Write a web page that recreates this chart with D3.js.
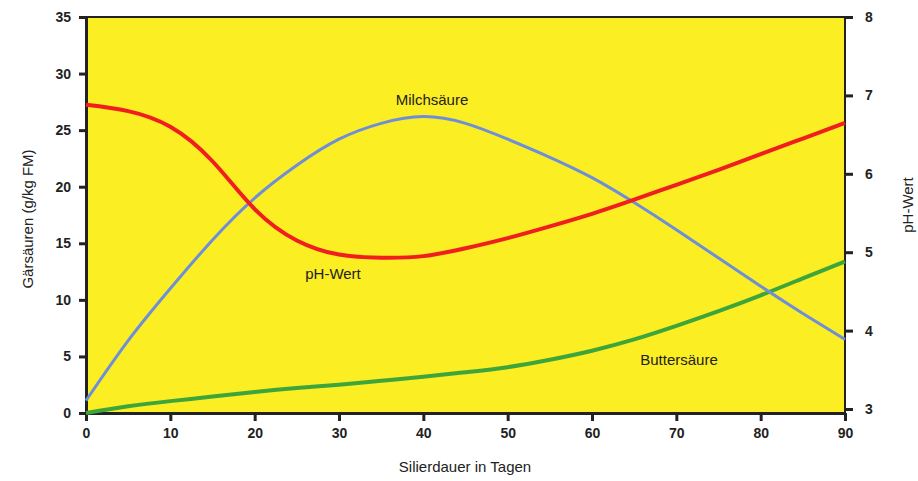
<!DOCTYPE html>
<html>
<head>
<meta charset="utf-8">
<script src="https://cdn.jsdelivr.net/npm/d3@7"></script>
<style>
  body { margin: 0; background: #fff; }
  svg text { font-family: "Liberation Sans", Arial, sans-serif; }
</style>
</head>
<body>
<svg id="chart" width="918" height="481"></svg>
<script>
// days on the x axis
const days = [0, 5, 10, 15, 20, 25, 30, 35, 40, 45, 50, 55, 60, 65, 70, 75, 80, 85, 90];
// lactic acid, g/kg FM (left axis)
const milchsaeure = [1.1, 6.4, 11.0, 15.3, 19.0, 21.9, 24.2, 25.6, 26.2, 25.6, 24.2, 22.6, 20.8, 18.6, 16.2, 13.7, 11.2, 8.8, 6.5];
// butyric acid, g/kg FM (left axis)
const buttersaeure = [0.0, 0.6, 1.05, 1.45, 1.85, 2.2, 2.5, 2.85, 3.2, 3.6, 4.05, 4.7, 5.5, 6.5, 7.7, 9.0, 10.4, 11.9, 13.4];
// pH (right axis)
const phWert = [6.88, 6.80, 6.60, 6.16, 5.55, 5.15, 4.97, 4.93, 4.95, 5.05, 5.18, 5.33, 5.49, 5.67, 5.86, 6.05, 6.25, 6.45, 6.65];

const leftTicks = [0, 5, 10, 15, 20, 25, 30, 35];
const rightTicks = [3, 4, 5, 6, 7, 8];
const xTicks = [0, 10, 20, 30, 40, 50, 60, 70, 80, 90];

const svg = d3.select("#chart");
const plotL = 86, plotR = 845, plotT = 17, plotB = 413;

const x = d3.scaleLinear().domain([0, 90]).range([plotL, plotR]);
const yL = d3.scaleLinear().domain([0, 35]).range([plotB, plotT]);
const yR = d3.scaleLinear().domain([3, 8]).range([409, plotT]);

// yellow plot area
svg.append("rect")
  .attr("x", plotL).attr("y", plotT)
  .attr("width", plotR - plotL).attr("height", plotB - plotT)
  .attr("fill", "#fbee23");

// top border
svg.append("line")
  .attr("x1", plotL).attr("x2", plotR + 7)
  .attr("y1", plotT).attr("y2", plotT)
  .attr("stroke", "#222").attr("stroke-width", 2);

function styleAxis(g) {
  g.selectAll("path").attr("stroke", "#222").attr("stroke-width", 3);
  g.selectAll("line").attr("stroke", "#222").attr("stroke-width", 3);
  g.selectAll("text")
    .attr("font-size", 14).attr("font-weight", "bold").attr("fill", "#222");
}

svg.append("g")
  .attr("transform", `translate(${plotL},0)`)
  .call(d3.axisLeft(yL).tickValues(leftTicks).tickSize(7).tickPadding(8).tickSizeOuter(0))
  .call(styleAxis);

svg.append("g")
  .attr("transform", `translate(${plotR},0)`)
  .call(d3.axisRight(yR).tickValues(rightTicks).tickFormat(d3.format("d"))
    .tickSize(8).tickPadding(12).tickSizeOuter(0))
  .call(g => g.select("path").attr("d", `M0,${plotT}V${plotB}`))
  .call(styleAxis)
  .call(g => g.selectAll("path").attr("stroke-width", 2));

svg.append("g")
  .attr("transform", `translate(0,${plotB})`)
  .call(d3.axisBottom(x).tickValues(xTicks).tickSize(8).tickPadding(7).tickSizeOuter(0))
  .call(styleAxis);

// curves
const lineL = d3.line().curve(d3.curveNatural)
  .x((d, i) => x(days[i])).y(d => yL(d));
const lineR = d3.line().curve(d3.curveNatural)
  .x((d, i) => x(days[i])).y(d => yR(d));

svg.append("path").datum(buttersaeure)
  .attr("d", lineL).attr("fill", "none")
  .attr("stroke", "#3ea53b").attr("stroke-width", 4);

svg.append("path").datum(milchsaeure)
  .attr("d", lineL).attr("fill", "none")
  .attr("stroke", "#6e8fd8").attr("stroke-width", 3);

svg.append("path").datum(phWert)
  .attr("d", lineR).attr("fill", "none")
  .attr("stroke", "#f01e1e").attr("stroke-width", 4);

// series labels
const labels = [
  { text: "Milchsäure", x: 432, y: 105 },
  { text: "pH-Wert", x: 333, y: 279 },
  { text: "Buttersäure", x: 679, y: 365 }
];
svg.selectAll(".lbl").data(labels).join("text")
  .attr("class", "lbl")
  .attr("x", d => d.x).attr("y", d => d.y)
  .attr("text-anchor", "middle")
  .attr("font-size", 15).attr("fill", "#222")
  .text(d => d.text);

// axis titles
svg.append("text")
  .attr("x", 465).attr("y", 472)
  .attr("text-anchor", "middle").attr("font-size", 15).attr("fill", "#222")
  .text("Silierdauer in Tagen");

svg.append("text")
  .attr("transform", "translate(33,219) rotate(-90)")
  .attr("text-anchor", "middle").attr("font-size", 15).attr("fill", "#222")
  .text("Gärsäuren (g/kg FM)");

svg.append("text")
  .attr("transform", "translate(913,205) rotate(-90)")
  .attr("text-anchor", "middle").attr("font-size", 15).attr("fill", "#222")
  .text("pH-Wert");
</script>
</body>
</html>
